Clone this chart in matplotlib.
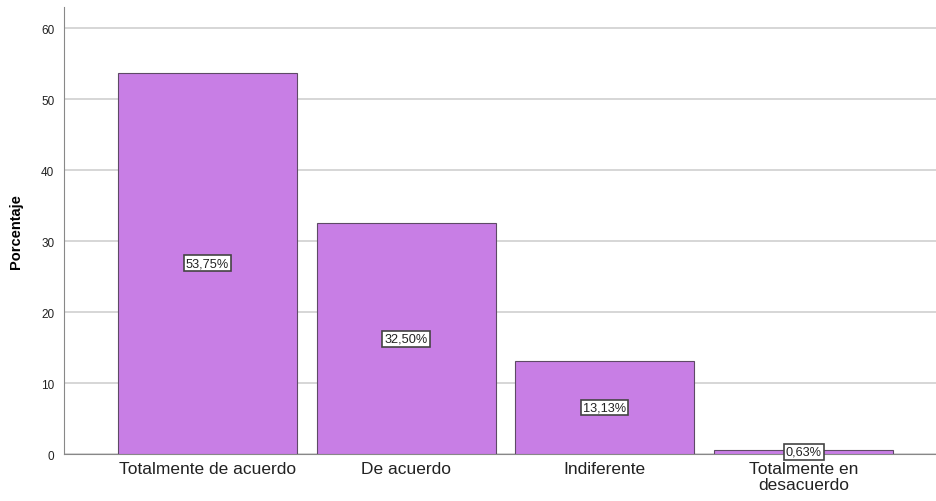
import matplotlib.pyplot as plt

# データ
categorias = ["Totalmente de acuerdo", "De acuerdo", "Indiferente", "Totalmente en\ndesacuerdo"]
porcentajes = [53.75, 32.50, 13.13, 0.63]
etiquetas = ["53,75%", "32,50%", "13,13%", "0,63%"]

plt.rcParams["font.family"] = ["Liberation Sans", "DejaVu Sans"]

fig = plt.figure(figsize=(9.37, 5.02), dpi=100)
ax = fig.add_axes([0.0683, 0.0936, 0.9317, 0.8904])

x = range(len(categorias))
ax.bar(x, porcentajes, width=0.9, color="#C87EE5", edgecolor="#5E4A66", linewidth=0.8, zorder=3)

# 棒の中央にラベル
for i, (v, t) in enumerate(zip(porcentajes, etiquetas)):
    ax.text(i, v / 2, t, ha="center", va="center", fontsize=9.2, color="#222222", zorder=4,
            bbox=dict(boxstyle="square,pad=0.15", facecolor="white", edgecolor="#444444", linewidth=1.2))

ax.set_xlim(-0.72, 3.67)
ax.set_ylim(0, 63)
ax.set_yticks([0, 10, 20, 30, 40, 50, 60])
ax.set_xticks(list(x))
ax.set_xticklabels(categorias, fontsize=12.5, color="#222222", linespacing=1.05)
ax.tick_params(axis="y", labelsize=8.5, length=0, pad=7, colors="#222222")
ax.tick_params(axis="x", length=0, pad=5)
ax.set_ylabel("Porcentaje", fontsize=10.5, fontweight="bold", labelpad=13)

ax.grid(axis="y", color="#CFCFCF", linewidth=1.2, zorder=0)
for s in ["top", "right"]:
    ax.spines[s].set_visible(False)
ax.spines["left"].set_color("#888888")
ax.spines["bottom"].set_color("#888888")

plt.savefig("out.png")
